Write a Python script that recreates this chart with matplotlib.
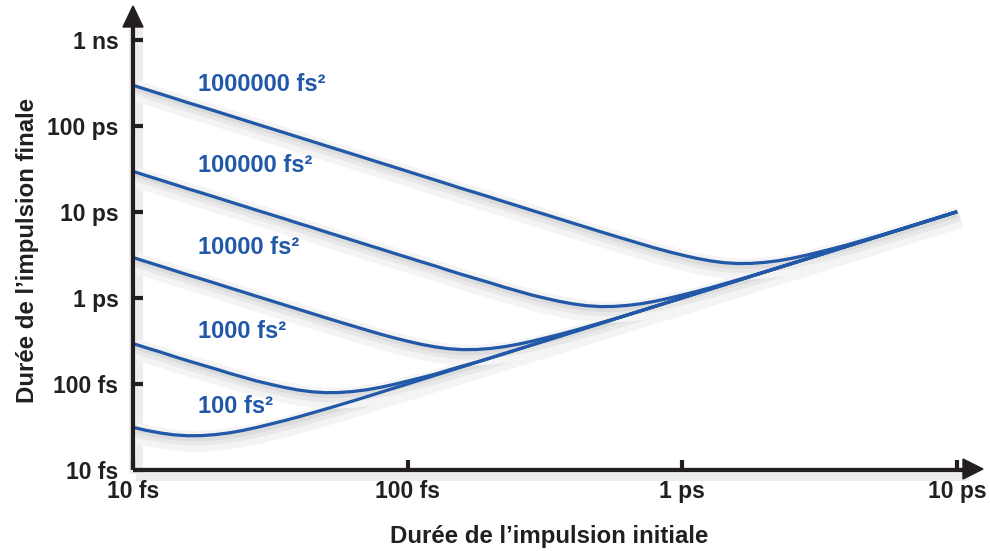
import matplotlib
matplotlib.use('Agg')
import matplotlib.pyplot as plt
from matplotlib import patheffects as pe
from matplotlib.patches import Polygon
from matplotlib.ticker import NullLocator

plt.rcParams['font.family'] = ['Liberation Sans', 'DejaVu Sans']
plt.rcParams['font.weight'] = 'bold'

# ---- data (durations in fs) ----
tau_in = [10, 11.2, 12.6, 14.1, 15.8, 17.8, 20.0, 22.4, 25.1, 28.2, 31.6, 35.5, 39.8, 44.7, 50.1,
          56.2, 63.1, 70.8, 79.4, 89.1, 100, 112, 126, 141, 158, 178, 200, 224, 251, 282,
          316, 355, 398, 447, 501, 562, 631, 708, 794, 891, 1000, 1122, 1259, 1413, 1585,
          1778, 1995, 2239, 2512, 2818, 3162, 3548, 3981, 4467, 5012, 5623, 6310, 7079, 7943,
          8913, 10000]

# final duration for each GDD; beyond the listed part the curve lies on the line out = in
out_100 = [31.3, 28.8, 26.9, 25.6, 25.0, 25.1, 25.8, 27.0, 28.8, 31.2, 34.1, 37.4, 41.2, 45.8,
           50.9, 56.7, 63.3, 70.9, 79.5, 89.2, 100] + tau_in[21:]
out_1000 = [294, 262, 234, 208, 186, 166, 149, 133, 120, 108, 99.0, 91.1, 85.1, 81.0, 79.1,
            79.4, 81.6, 85.4, 91.1, 98.7, 108, 118, 130, 145, 161, 179, 200, 224, 251, 282,
            316] + tau_in[31:]
out_10000 = [2940, 2620, 2330, 2080, 1850, 1650, 1470, 1310, 1170, 1040, 930, 828, 739, 659,
             588, 526, 471, 422, 379, 343, 313, 288, 269, 256, 250, 251, 258, 270, 288, 312,
             341, 374, 412, 458, 509, 567, 633, 709, 795, 892, 1000] + tau_in[41:]
out_100000 = [29400, 26200, 23300, 20800, 18500, 16500, 14700, 13100, 11700, 10400, 9300, 8290,
              7370, 6580, 5850, 5220, 4650, 4140, 3700, 3290, 2940, 2620, 2340, 2080, 1860,
              1660, 1490, 1330, 1200, 1080, 990, 911, 851, 810, 791, 794, 816, 854, 911, 987,
              1078, 1183, 1303, 1448, 1610, 1793, 2002, 2242, 2514, 2821, 3162] + tau_in[51:]
out_1000000 = [294000, 262000, 233000, 208000, 185000, 165000, 147000, 131000, 117000, 104000,
               92900, 82800, 73800, 65800, 58600, 52300, 46600, 41500, 37000, 33000, 29400,
               26200, 23300, 20800, 18500, 16500, 14700, 13100, 11700, 10400, 9300, 8280, 7390,
               6590, 5880, 5260, 4710, 4220, 3790, 3430, 3130, 2880, 2690, 2560, 2500, 2510,
               2580, 2700, 2880, 3120, 3410, 3740, 4120, 4580, 5090, 5670, 6330, 7090, 7950,
               8920, 10000]

series = [out_100, out_1000, out_10000, out_100000, out_1000000]
series_labels = ['100 fs²', '1000 fs²', '10000 fs²', '100000 fs²', '1000000 fs²']
label_y = [54, 411, 3890, 34000, 304000]
label_x = 17.2

x_ticks = [10, 100, 1000, 10000]
x_tick_labels = ['10 fs', '100 fs', '1 ps', '10 ps']
y_ticks = [10, 100, 1000, 10000, 100000, 1000000]
y_tick_labels = ['10 fs', '100 fs', '1 ps', '10 ps', '100 ps', '1 ns']

BLUE = '#2158a8'
DARK = '#231f20'

# ---- figure ----
W, H = 990, 551
fig = plt.figure(figsize=(W / 100, H / 100), dpi=100)
L, R, B, T = 133, 985, 470, 8
XDEC, YDEC = 274.7, 86.1
ax = fig.add_axes([L / W, 1 - B / H, (R - L) / W, (B - T) / H])
ax.set_xscale('log')
ax.set_yscale('log')
ax.set_xlim(10, 10 ** (1 + (R - L) / XDEC))
ax.set_ylim(10, 10 ** (1 + (B - T) / YDEC))
for s in ax.spines.values():
    s.set_visible(False)
ax.patch.set_visible(False)

# soft (opaque) shadows, drawn under every line so overlaps do not darken
shadow_only = [pe.SimpleLineShadow(offset=(2, -4), shadow_color='#f4f4f4', alpha=1,
                                   linewidth=15, capstyle='butt'),
               pe.SimpleLineShadow(offset=(1.5, -3), shadow_color='#e8e8e8', alpha=1,
                                   linewidth=8, capstyle='butt'),
               pe.SimpleLineShadow(offset=(1, -2), shadow_color='#dcdcdc', alpha=1,
                                   linewidth=4, capstyle='butt')]
ax_shadow_only = [pe.SimpleLineShadow(offset=(2, -3), shadow_color='#ededed', alpha=1,
                                      linewidth=10, capstyle='butt')]

xaxis_x = [0, (966 - L) / (R - L)]
yaxis_y = [0, (B - 24) / (B - T)]

# axis shadows (lowest)
ax.plot(xaxis_x, [0, 0], transform=ax.transAxes, color='none', lw=3, clip_on=False,
        zorder=1, path_effects=ax_shadow_only)
ax.plot([0, 0], yaxis_y, transform=ax.transAxes, color='none', lw=3, clip_on=False,
        zorder=1, path_effects=ax_shadow_only)

for ys in series:
    ax.plot(tau_in, ys, color='none', lw=2.3, clip_on=False, path_effects=shadow_only, zorder=2)
for ys in series:
    ax.plot(tau_in, ys, color=BLUE, lw=2.3, solid_capstyle='butt', clip_on=False, zorder=3)

for txt, yv in zip(series_labels, label_y):
    ax.text(label_x, yv, txt, color=BLUE, fontsize=17, fontweight='bold',
            ha='left', va='center', zorder=4)

# axes lines with arrows
ax.plot(xaxis_x, [0, 0], transform=ax.transAxes, color=DARK, lw=3,
        clip_on=False, solid_capstyle='butt', zorder=5)
ax.plot([0, 0], yaxis_y, transform=ax.transAxes, color=DARK, lw=3,
        clip_on=False, solid_capstyle='butt', zorder=5)


def fp(px, py):
    return (px / W, 1 - py / H)


fig.patches.append(Polygon([fp(983, 469), fp(963, 459), fp(963, 479)], closed=True,
                           transform=fig.transFigure, color=DARK, zorder=6))
fig.patches.append(Polygon([fp(133, 6), fp(123, 27), fp(143, 27)], closed=True,
                           transform=fig.transFigure, color=DARK, zorder=6))

ax.set_xticks(x_ticks)
ax.set_xticklabels(x_tick_labels)
ax.set_yticks(y_ticks)
ax.set_yticklabels(y_tick_labels)
ax.xaxis.set_minor_locator(NullLocator())
ax.yaxis.set_minor_locator(NullLocator())
ax.tick_params(which='major', direction='in', length=7.5, width=3, color=DARK,
               labelsize=16.5, labelcolor=DARK)
ax.tick_params(axis='x', pad=7)
ax.tick_params(axis='y', pad=10.5)
for lab in ax.get_xticklabels() + ax.get_yticklabels():
    lab.set_fontweight('bold')

fig.text(549 / W, 1 - 537 / H, 'Durée de l’impulsion initiale', ha='center', va='center',
         fontsize=17.3, fontweight='bold', color=DARK)
fig.text(28 / W, 1 - 250 / H, 'Durée de l’impulsion finale', ha='center', va='center',
         rotation=90, fontsize=17.3, fontweight='bold', color=DARK)

fig.savefig('out.png', dpi=100)
